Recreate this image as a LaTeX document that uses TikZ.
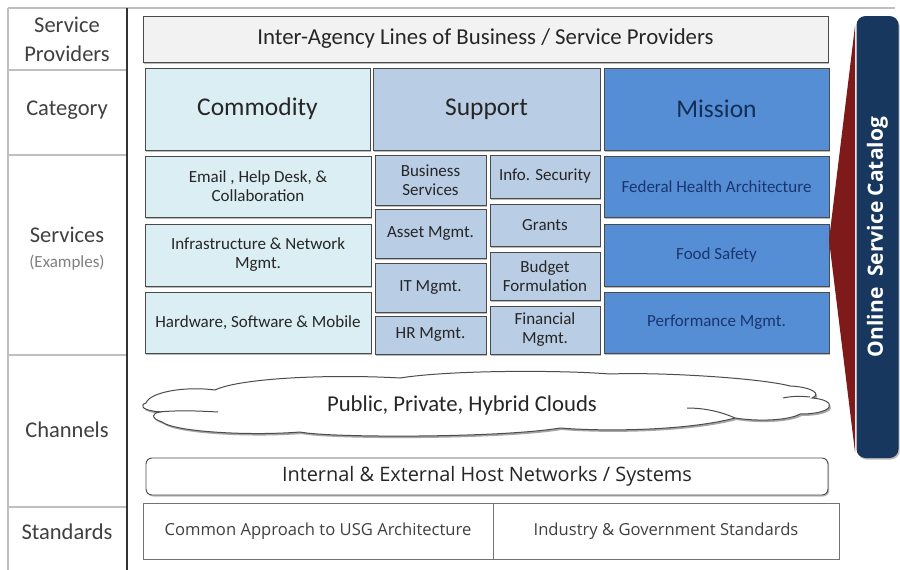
\documentclass[tikz,border=0pt]{standalone}
\usepackage{fontspec}
\setmainfont{Carlito}
\newfontfamily\osans{Open Sans}
\usetikzlibrary{shadows}
\definecolor{commfill}{HTML}{DBEEF4}
\definecolor{suppfill}{HTML}{B9CDE5}
\definecolor{missfill}{HTML}{558ED5}
\definecolor{misstext}{HTML}{142F55}
\definecolor{misssvc}{HTML}{1A3570}
\definecolor{edgegray}{HTML}{4A4A4A}
\definecolor{linegray}{HTML}{BFBFBF}
\definecolor{labgray}{HTML}{404040}
\definecolor{catnavy}{HTML}{17375E}
\definecolor{catred}{HTML}{7F1A1A}
\definecolor{topfill}{HTML}{F2F2F2}
\tikzset{
  shad/.style={drop shadow={shadow xshift=1.2pt,shadow yshift=-1.5pt,opacity=0.45,fill=black!60}},
  boxbase/.style={draw=edgegray,line width=0.9pt,inner sep=1pt,align=center,shad},
  commbox/.style={boxbase,fill=commfill,text=black!85,font=\fontsize{17}{19}\selectfont},
  suppbox/.style={boxbase,fill=suppfill,text=black!85,font=\fontsize{17}{19}\selectfont},
  missbox/.style={boxbase,fill=missfill,text=misssvc,font=\fontsize{17}{19}\selectfont},
  cathead/.style={boxbase,font=\fontsize{25.5}{30}\selectfont},
  sidelab/.style={text=labgray,align=center,font=\fontsize{22.5}{29}\selectfont},
  stdtext/.style={text=black!75,font=\osans\fontsize{16.6}{19}\selectfont},
}
\begin{document}
\begin{tikzpicture}[x=1pt,y=-1pt]
\useasboundingbox (0,0) rectangle (900,570);
\fill[white] (0,0) rectangle (900,570);
% left column frame
\draw[linegray,line width=1.2pt] (8,8) -- (895,8);
\draw[linegray,line width=1.2pt] (8,8) -- (8,570);
\foreach \yy in {70,155,355,507} \draw[linegray,line width=1.2pt] (8,\yy) -- (127,\yy);
\draw[black!80,line width=1.5pt] (127,8) -- (127,570);
% left labels
\node[sidelab] (lsp) at (67,39) {Service\\Providers};
\node[sidelab] (lcat) at (67,110) {Category};
\node[sidelab] (lsvc) at (67,235) {Services};
\node[text=gray,font=\fontsize{17}{19}\selectfont] (lex) at (67,263) {(Examples)};
\node[sidelab] (lch) at (67,430) {Channels};
\node[sidelab] (lstd) at (67,532) {Standards};
% top bar
\node[boxbase,fill=topfill,minimum width=685pt,minimum height=46pt,font=\fontsize{22.8}{26}\selectfont,text=black!85] (inter) at (485.5,39) {Inter-Agency Lines of Business / Service Providers};
% category headers
\node[cathead,fill=commfill,text=black!85,minimum width=225pt,minimum height=82pt] (comm) at (257.5,109) {Commodity};
\node[cathead,fill=suppfill,text=black!85,minimum width=227pt,minimum height=82pt] (supp) at (486.5,109) {Support};
\node[cathead,fill=missfill,text=misstext,minimum width=225pt,minimum height=82pt] (miss) at (716.5,109) {Mission};
% commodity services
\node[commbox,minimum width=226pt,minimum height=61pt] (email) at (258,186.5) {Email , Help Desk, \&\\Collaboration};
\node[commbox,minimum width=226pt,minimum height=62pt] (infra) at (258,255) {Infrastructure \& Network\\Mgmt.};
\node[commbox,minimum width=226pt,minimum height=61pt] (hard) at (258,322.5) {Hardware, Software \& Mobile};
% support services
\node[suppbox,minimum width=111pt,minimum height=50pt] (bus) at (430.5,180) {Business\\Services};
\node[suppbox,minimum width=111pt,minimum height=49pt] (asset) at (430.5,233.5) {Asset Mgmt.};
\node[suppbox,minimum width=111pt,minimum height=49pt] (itm) at (430.5,287.5) {IT Mgmt.};
\node[suppbox,minimum width=111pt,minimum height=38pt] (hrm) at (430.5,335) {HR Mgmt.};
\node[suppbox,minimum width=110pt,minimum height=43pt] (info) at (545,176.5) {Info. Security};
\node[suppbox,minimum width=110pt,minimum height=42pt] (grants) at (545,225) {Grants};
\node[suppbox,minimum width=110pt,minimum height=48pt] (budget) at (545,276) {Budget\\Formulation};
\node[suppbox,minimum width=110pt,minimum height=48pt] (fin) at (545,330) {Financial\\Mgmt.};
% mission services
\node[missbox,minimum width=225pt,minimum height=61pt] (fha) at (716.5,186.5) {Federal Health Architecture};
\node[missbox,minimum width=225pt,minimum height=62pt] (food) at (716.5,255) {Food Safety};
\node[missbox,minimum width=225pt,minimum height=61pt] (perf) at (716.5,322.5) {Performance Mgmt.};
% cloud
\def\cloudpath{(146,403) .. controls (150,392) and (185,386) .. (215,390)
 .. controls (240,378) and (330,374) .. (400,378)
 .. controls (450,370) and (560,370) .. (610,374)
 .. controls (660,372) and (760,378) .. (790,386)
 .. controls (812,387) and (822,394) .. (812,398)
 .. controls (838,400) and (836,414) .. (800,414)
 .. controls (790,420) and (760,422) .. (735,418)
 .. controls (690,430) and (610,432) .. (560,428)
 .. controls (500,438) and (330,438) .. (300,432)
 .. controls (250,436) and (175,432) .. (162,422)
 .. controls (150,418) and (152,413) .. (160,412)
 .. controls (140,410) and (140,405) .. (146,403) -- cycle}
\fill[black!35] [xshift=1.5pt,yshift=-2pt] \cloudpath;
\filldraw[fill=white,draw=black!70,line width=1pt] \cloudpath;
\draw[black!70,line width=1pt] (158,412) .. controls (180,410) and (200,411) .. (218,412);
\draw[black!70,line width=1pt] (783,398) .. controls (792,396) and (800,396) .. (810,397);
\draw[black!70,line width=1pt] (687,408) .. controls (705,408) and (722,412) .. (735,418);
\node[font=\fontsize{22.7}{26}\selectfont,text=black!85] (clouds) at (462,405) {Public, Private, Hybrid Clouds};
% host networks
\node[boxbase,rounded corners=6pt,fill=white,minimum width=682pt,minimum height=37pt,font=\osans\fontsize{19.9}{22}\selectfont,text=black!85] (host) at (487,476.5) {Internal \& External Host Networks / Systems};
% standards
\draw[black!55,line width=1pt] (143,503) rectangle (839,559);
\draw[black!55,line width=1pt] (493,503) -- (493,559);
\coordinate (stdL) at (318,531);
\coordinate (stdR) at (666,531);
\node[stdtext] (std1) at (stdL) {Common Approach to USG Architecture};
\node[stdtext] (std2) at (stdR) {Industry \& Government Standards};
% catalog
\fill[catred] (855,26) -- (829,240) -- (855,452) -- cycle;
\node[fill=catnavy,rounded corners=9pt,minimum width=42pt,minimum height=442pt,shad] (cat) at (877.5,237) {};
\node[rotate=90,text=white,font=\osans\bfseries\fontsize{21}{24}\selectfont] (cattext) at (cat.center) {Online\ \ Service Catalog};
\end{tikzpicture}
\end{document}
